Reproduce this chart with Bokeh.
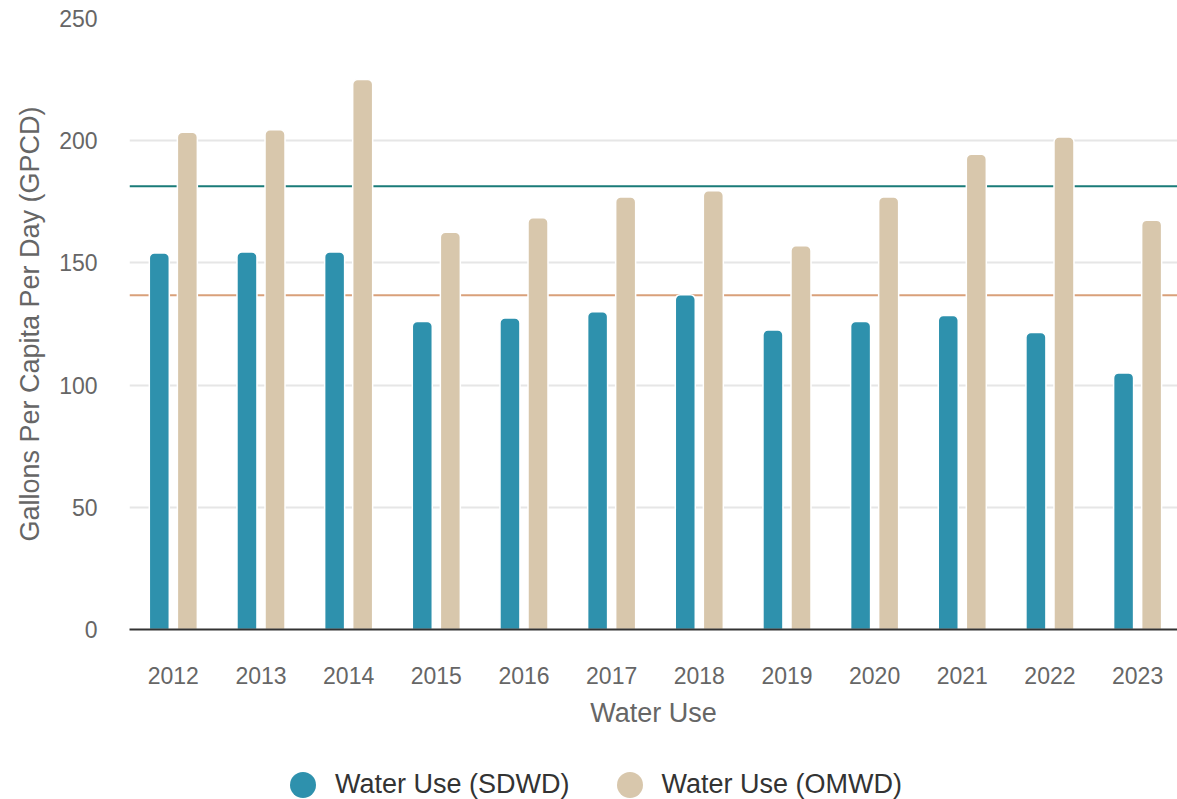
import numpy as np
from bokeh.plotting import figure
from bokeh.layouts import column
from bokeh.models import Range1d, Span, Legend, LegendItem, ColumnDataSource, FixedTicker
from bokeh.embed import file_html
from bokeh.resources import INLINE

years = ["2012", "2013", "2014", "2015", "2016", "2017", "2018", "2019", "2020", "2021", "2022", "2023"]
sdwd = [154, 154.5, 154.5, 126, 127.5, 130, 137, 122.5, 126, 128.5, 121.5, 105]
omwd = [203.5, 204.5, 225, 162.5, 168.5, 177, 179.5, 157, 177, 194.5, 201.5, 167.5]
sdwd_ref = 181.4
omwd_ref = 136.8
y_ticks = [0, 50, 100, 150, 200, 250]

series_names = ["Water Use (SDWD)", "Water Use (OMWD)"]
colors = ["#2E91AD", "#D8C7AC"]
font = "Liberation Sans"

pos = np.arange(len(years)) + 0.5
src = ColumnDataSource(dict(x1=pos - 0.16, x2=pos + 0.16, sdwd=sdwd, omwd=omwd))

p = figure(x_range=Range1d(0, 11.955), y_range=Range1d(0, 250),
           width=1177, height=730,
           output_backend="svg", toolbar_location=None,
           min_border_left=129, min_border_right=0, min_border_top=18,
           min_border_bottom=100, outline_line_color=None)

p.add_layout(Span(location=sdwd_ref, dimension="width", line_color="#1A7B78",
                  line_width=2, level="underlay"))
p.add_layout(Span(location=omwd_ref, dimension="width", line_color="#D9A07A",
                  line_width=2, level="underlay"))

p.vbar(x="x1", top="sdwd", width=0.228, source=src,
       fill_color=colors[0], line_color="white", line_width=1.5,
       border_radius=(5, 5, 0, 0))
p.vbar(x="x2", top="omwd", width=0.228, source=src,
       fill_color=colors[1], line_color="white", line_width=1.5,
       border_radius=(5, 5, 0, 0))

p.xgrid.grid_line_color = None
p.ygrid.grid_line_color = "#E6E6E6"
p.ygrid.grid_line_width = 2
p.yaxis.ticker = FixedTicker(ticks=y_ticks)
p.xaxis.ticker = FixedTicker(ticks=list(pos))
p.xaxis.major_label_overrides = {float(v): y for v, y in zip(pos, years)}

p.yaxis.axis_line_color = None
p.yaxis.major_tick_line_color = None
p.yaxis.minor_tick_line_color = None
p.yaxis.major_label_standoff = 26
p.yaxis.major_label_text_font = font
p.yaxis.major_label_text_font_size = "23px"
p.yaxis.major_label_text_color = "#666666"
p.yaxis.axis_label = "Gallons Per Capita Per Day (GPCD)"
p.yaxis.axis_label_text_font = font
p.yaxis.axis_label_text_font_size = "27px"
p.yaxis.axis_label_text_font_style = "normal"
p.yaxis.axis_label_text_color = "#666666"
p.yaxis.axis_label_standoff = 11

p.xaxis.axis_line_color = "#333333"
p.xaxis.axis_line_width = 2
p.xaxis.major_tick_line_color = None
p.xaxis.minor_tick_line_color = None
p.xaxis.major_label_standoff = 31
p.xaxis.major_label_text_font = font
p.xaxis.major_label_text_font_size = "23px"
p.xaxis.major_label_text_color = "#666666"
p.xaxis.axis_label = "Water Use"
p.xaxis.axis_label_text_font = font
p.xaxis.axis_label_text_font_size = "27px"
p.xaxis.axis_label_text_font_style = "normal"
p.xaxis.axis_label_text_color = "#666666"
p.xaxis.axis_label_standoff = 11

# legend strip
lg = figure(x_range=Range1d(0, 1), y_range=Range1d(0, 1), width=1177, height=69,
            output_backend="svg", toolbar_location=None, x_axis_type=None, y_axis_type=None,
            min_border_left=0, min_border_right=0, min_border_top=0, min_border_bottom=0,
            outline_line_color=None)
lg.xgrid.grid_line_color = None
lg.ygrid.grid_line_color = None
m1 = lg.scatter(x=[-2], y=[-2], marker="circle", fill_color=colors[0], line_color=None)
m2 = lg.scatter(x=[-2], y=[-2], marker="circle", fill_color=colors[1], line_color=None)

legend = Legend(items=[LegendItem(label=series_names[0], renderers=[m1]),
                       LegendItem(label=series_names[1], renderers=[m2])],
                orientation="horizontal", location=(141, -18),
                label_text_font=font, label_text_font_size="27px",
                label_text_color="#333333", glyph_width=65, glyph_height=65,
                label_standoff=0, spacing=27,
                border_line_color=None, background_fill_alpha=0, padding=0, margin=0)
lg.add_layout(legend, "center")

open("out.html", "w").write(file_html(column(p, lg, spacing=0), INLINE))
